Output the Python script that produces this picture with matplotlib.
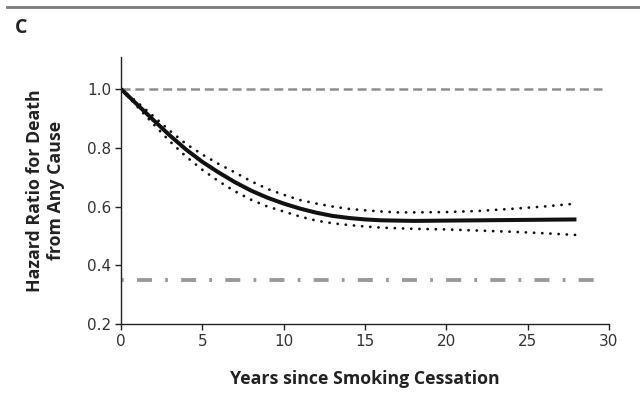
import numpy as np
import matplotlib.pyplot as plt
from matplotlib.lines import Line2D

# Hazard ratio for death vs years since smoking cessation
years = [0, 1, 2, 3, 4, 5, 6, 7, 8, 9, 10, 11, 12, 13, 14, 15, 16, 17, 18, 20, 22, 24, 26, 28]
hr = [1.0, 0.947, 0.894, 0.842, 0.794, 0.752, 0.716, 0.683, 0.654, 0.630, 0.610, 0.593,
      0.579, 0.568, 0.561, 0.556, 0.553, 0.552, 0.551, 0.552, 0.553, 0.554, 0.555, 0.556]
hr_upper = [1.0, 0.955, 0.907, 0.858, 0.813, 0.777, 0.745, 0.716, 0.686, 0.660, 0.640, 0.622,
            0.610, 0.600, 0.592, 0.587, 0.583, 0.580, 0.580, 0.581, 0.585, 0.592, 0.600, 0.610]
hr_lower = [1.0, 0.940, 0.880, 0.822, 0.770, 0.725, 0.686, 0.652, 0.623, 0.600, 0.583, 0.566,
            0.552, 0.543, 0.537, 0.532, 0.528, 0.526, 0.524, 0.522, 0.518, 0.514, 0.509, 0.503]

ref_line = 1.0        # no-benefit reference
never_smoker = 0.35   # never-smoker level
ref_span = [0, 29.6]

xticks = [0, 5, 10, 15, 20, 25, 30]
yticks = [0.2, 0.4, 0.6, 0.8, 1.0]

plt.rcParams['lines.scale_dashes'] = False

fig = plt.figure(figsize=(6.4, 3.96), dpi=100)
ax = fig.add_axes([121/640, 1 - 324/396, (609-121)/640, (324-57)/396])

# reference lines
ax.plot(ref_span, [ref_line, ref_line], color='#8e8e8e', lw=1.8, dashes=(6.5, 3.5))
ax.plot(ref_span, [never_smoker, never_smoker], color='#9a9a9a', lw=2.8,
        dashes=(2, 9.5, 10.8, 9.5), dash_capstyle='butt')

# estimate and confidence band
dot_style = (0, (0.1, 5.8))
ax.plot(years, hr_upper, color='#111111', lw=2.0, linestyle=dot_style, dash_capstyle='round')
ax.plot(years, hr_lower, color='#111111', lw=2.0, linestyle=dot_style, dash_capstyle='round')
ax.plot(years, hr, color='#111111', lw=2.9, solid_capstyle='butt')

ax.set_xlim(0, 30)
ax.set_ylim(0.2, 1.109)
ax.set_xticks(xticks)
ax.set_yticks(yticks)
ax.set_yticklabels([f'{v:.1f}' for v in yticks])
ax.spines['top'].set_visible(False)
ax.spines['right'].set_visible(False)
for s in ['left', 'bottom']:
    ax.spines[s].set_linewidth(1.0)
    ax.spines[s].set_color('#222222')
ax.tick_params(direction='out', length=4, width=1.0, color='#222222',
               labelsize=11, labelcolor='#333333', pad=3)

ax.set_xlabel('Years since Smoking Cessation', fontsize=12.8, fontweight='bold',
              family='Open Sans', color='#222222', labelpad=15)
ax.set_ylabel('Hazard Ratio for Death\nfrom Any Cause', fontsize=12.8, fontweight='bold',
              family='Open Sans', color='#222222', labelpad=16, linespacing=1.2)

# panel letter and top rule
fig.text(15/640, 1 - 28/396, 'C', fontsize=14, fontweight='bold', family='Open Sans',
         color='#222222', va='center', ha='left')
fig.add_artist(Line2D([7/640, 1.0], [1 - 7/396, 1 - 7/396], color='#7a7a7a', lw=2.0,
                      transform=fig.transFigure))

fig.savefig('out.png', dpi=100)
